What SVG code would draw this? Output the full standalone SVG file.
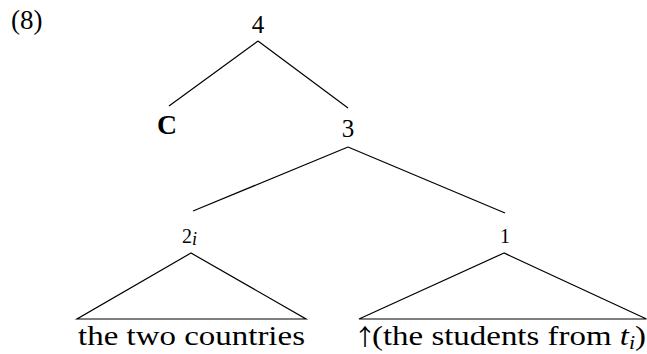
<svg xmlns="http://www.w3.org/2000/svg" width="647" height="354" viewBox="0 0 647 354">
  <style>
    text { font-family: "Liberation Serif", "Times New Roman", serif; fill: #000; }
    .lbl { font-size: 25px; text-anchor: middle; }
    .num { font-size: 20px; text-anchor: middle; }
    .leaf { font-size: 27px; }
    .arrow { font-family: "Noto Sans CJK SC", "DejaVu Serif", serif; font-size: 23px; text-anchor: middle; }
    .edge { stroke: #000; stroke-width: 1.2; fill: none; stroke-linejoin: miter; }
  </style>
  <rect width="647" height="354" fill="#fff"/>

  <!-- example number -->
  <text x="11" y="29" style="font-size:27px">(8)</text>

  <!-- branches and triangles -->
  <g id="connectors">
    <line class="edge" x1="258" y1="41" x2="169" y2="106"/>
    <line class="edge" x1="258" y1="41" x2="348" y2="108"/>
    <line class="edge" x1="348" y1="147" x2="193" y2="211"/>
    <line class="edge" x1="348" y1="147" x2="505" y2="213"/>
    <polygon class="edge" points="191,253 77,319 306,319"/>
    <polygon class="edge" points="504,253 359,319 646.5,319"/>
  </g>

  <g id="n4"><text class="lbl" x="258" y="33">4</text></g>
  <g id="nC"><text x="157" y="134" font-weight="bold" style="font-size:28px" textLength="20" lengthAdjust="spacingAndGlyphs">C</text></g>
  <g id="n3"><text class="lbl" x="348" y="137">3</text></g>
  <g id="n2"><text x="182" y="243" style="font-size:20px">2<tspan font-style="italic" font-size="18" dy="2">i</tspan></text></g>
  <g id="n1"><text class="num" x="505" y="243">1</text></g>

  <g id="leaf-left"><text class="leaf" x="78" y="345" textLength="227" lengthAdjust="spacingAndGlyphs">the two countries</text></g>
  <g id="leaf-right">
    <text class="arrow" x="365" y="345">↑</text>
    <text class="leaf" x="372" y="345" textLength="274" lengthAdjust="spacingAndGlyphs">(the students from <tspan font-style="italic">t</tspan><tspan font-style="italic" font-size="18" dy="4">i</tspan><tspan dy="-4">)</tspan></text>
  </g>
</svg>
